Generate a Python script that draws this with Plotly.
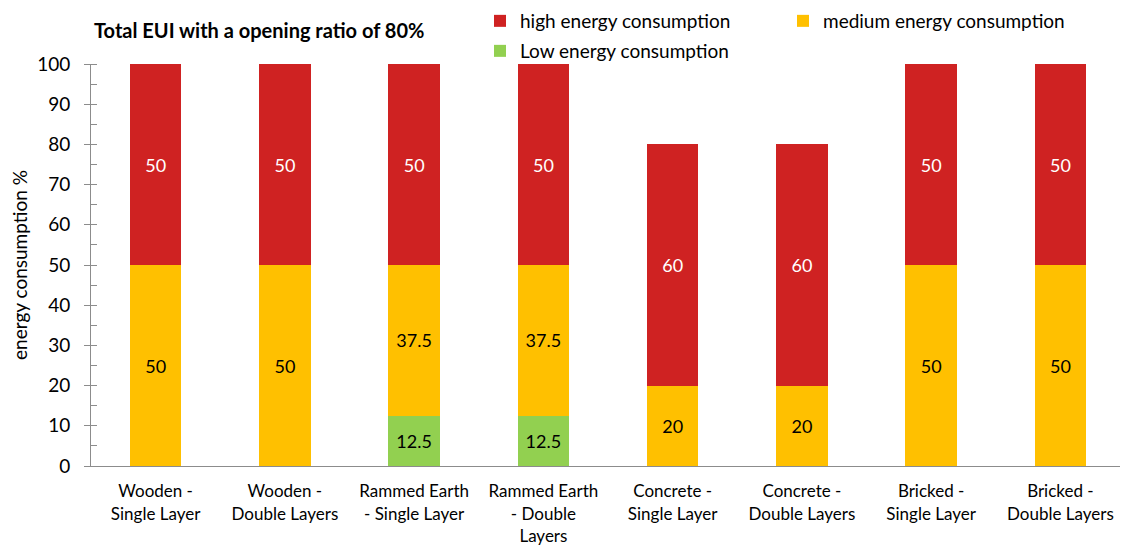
import plotly.graph_objects as go

# --- DATA ---
categories = [
    "Wooden -<br>Single Layer",
    "Wooden -<br>Double Layers",
    "Rammed Earth<br>- Single Layer",
    "Rammed Earth<br>- Double<br>Layers",
    "Concrete -<br>Single Layer",
    "Concrete -<br>Double Layers",
    "Bricked -<br>Single Layer",
    "Bricked -<br>Double Layers",
]
low_energy = [None, None, 12.5, 12.5, None, None, None, None]
medium_energy = [50, 50, 37.5, 37.5, 20, 20, 50, 50]
high_energy = [50, 50, 50, 50, 60, 60, 50, 50]

FONT = "Lato"
AXIS_GREY = "#8c8c8c"
colors = {"high": "#CF2222", "medium": "#FFC000", "low": "#92D050"}

fig = go.Figure()

# stacking order bottom -> top; legend placement handled separately
series = [
    ("Low energy consumption", low_energy, colors["low"], "black", "legend2", 3),
    ("medium energy consumption", medium_energy, colors["medium"], "black", "legend", 2),
    ("high energy consumption", high_energy, colors["high"], "white", "legend", 1),
]
for name, vals, col, tcol, leg, rank in series:
    fig.add_trace(go.Bar(
        x=categories, y=vals, name=name, marker=dict(color=col, line_width=0),
        text=[("" if v is None else f"{v:g}") for v in vals],
        textposition="inside", insidetextanchor="middle", textangle=0,
        textfont=dict(color=tcol, size=18, family=FONT),
        legend=leg, legendrank=rank, width=0.4,
    ))

# page is drawn with an 8px body margin, so figure coords = page coords - 8
legend_common = dict(orientation="h", xref="container", yref="container", x=472 / 1128,
                     xanchor="left", yanchor="middle", entrywidth=258, traceorder="normal",
                     font=dict(size=19, family=FONT, color="black"), bgcolor="rgba(0,0,0,0)")

fig.update_layout(
    barmode="stack",
    width=1128, height=554,
    paper_bgcolor="white", plot_bgcolor="white",
    margin=dict(l=83, r=11, t=56, b=96, autoexpand=False),
    font=dict(family=FONT, size=17, color="black"),
    title=dict(text="<b>Total EUI with a opening ratio of 80%</b>", x=86 / 1128, xanchor="left",
               y=1 - 23 / 554, yanchor="middle", font=dict(size=20, family=FONT, color="black")),
    legend=dict(legend_common, y=1 - 13 / 554),
    legend2=dict(legend_common, y=1 - 43 / 554),
    showlegend=True,
)

fig.update_yaxes(
    range=[0, 100], dtick=10, showgrid=False, zeroline=False,
    showline=True, linecolor=AXIS_GREY, linewidth=1,
    ticks="outside", ticklen=6, tickcolor=AXIS_GREY, ticklabelstandoff=10,
    minor=dict(dtick=5, ticks="inside", ticklen=6, tickcolor=AXIS_GREY, showgrid=False),
    title=dict(text="energy consumption %", font=dict(size=19, family=FONT, color="black"), standoff=8),
    tickfont=dict(size=19, color="black"),
)
fig.update_xaxes(
    showgrid=False, showline=True, linecolor=AXIS_GREY, linewidth=1,
    ticks="outside", ticklen=10, tickcolor="rgba(0,0,0,0)", tickfont=dict(size=17, color="black"),
)

fig.write_html("out.html")
